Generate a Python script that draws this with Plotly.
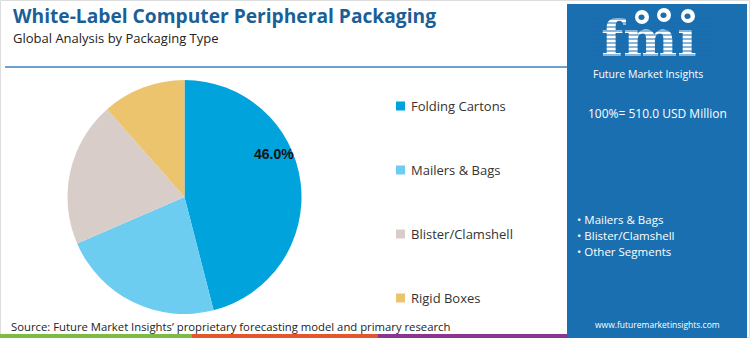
import math
import plotly.graph_objects as go

# ---- data ----
categories = ["Folding Cartons", "Mailers & Bags", "Blister/Clamshell", "Rigid Boxes"]
shares = [46.0, 22.5, 20.0, 11.5]
colors = ["#00A3DC", "#6DCDF1", "#D9CDC9", "#EBC46D"]
total_label = "100%= 510.0 USD Million"
key_segments = ["Mailers & Bags", "Blister/Clamshell", "Other Segments"]

W, H = 750, 338
PANEL = "#1A6FB0"


def px(x):
    return x / W


def py(y):
    return 1 - y / H


fig = go.Figure()

# pie
cx, cy, r = 184.5, 197, 117
fig.add_trace(go.Pie(
    labels=categories, values=shares, sort=False, direction="clockwise", rotation=0,
    marker=dict(colors=colors, line=dict(width=0)),
    textinfo="none",
    domain=dict(x=[px(cx - r), px(cx + r)], y=[py(cy + r), py(cy - r)]),
    showlegend=False, hoverinfo="label+percent",
))

# logo text as scatter (so stripes can go above it)
fig.add_trace(go.Scatter(
    x=[px(649)], y=[py(43.5)], mode="text", text=["fm\u0131"],
    textfont=dict(family="DejaVu Serif", size=51, color="white", weight="bold"),
    textposition="middle center", showlegend=False, hoverinfo="skip",
    xaxis="x", yaxis="y",
))

shapes = []
# outer frame
shapes.append(dict(type="rect", xref="paper", yref="paper", x0=px(0.5), x1=px(749.5), y0=py(337.5), y1=py(0.5),
                   line=dict(color="#DDDDDD", width=1), layer="below"))
# right panel
shapes.append(dict(type="rect", xref="paper", yref="paper", x0=px(567), x1=px(747), y0=py(338), y1=py(4),
                   fillcolor=PANEL, line=dict(width=0), layer="below"))
# title rule
shapes.append(dict(type="line", xref="paper", yref="paper", x0=px(5), x1=px(567), y0=py(67), y1=py(67),
                   line=dict(color="#3A80C2", width=1.5), layer="below"))
# bottom colour bars
for x0, x1, c in [(0, 192, "#7DBB42"), (192, 378, "#E2572B"), (378, 567, "#8B3590")]:
    shapes.append(dict(type="rect", xref="paper", yref="paper", x0=px(x0), x1=px(x1), y0=py(338), y1=py(334),
                       fillcolor=c, line=dict(width=0), layer="below"))
# logo stripes over letters
for yy in range(19, 60, 4):
    shapes.append(dict(type="line", xref="paper", yref="paper", x0=px(588), x1=px(712), y0=py(yy), y1=py(yy),
                       line=dict(color=PANEL, width=1.2), layer="above"))
# globes
for gx, gy in [(642, 17), (664, 15), (688, 16)]:
    shapes.append(dict(type="circle", xref="paper", yref="paper", x0=px(gx - 7), x1=px(gx + 7),
                       y0=py(gy + 7), y1=py(gy - 7), fillcolor="white", line=dict(width=0), layer="above"))
    shapes.append(dict(type="circle", xref="paper", yref="paper", x0=px(gx - 3.5), x1=px(gx + 2.5),
                       y0=py(gy + 3), y1=py(gy - 2.5), fillcolor=PANEL, line=dict(width=0), layer="above"))

# legend (custom)
leg_y = [106, 170, 234, 298]
for lab, c, yy in zip(categories, colors, leg_y):
    shapes.append(dict(type="rect", xref="paper", yref="paper", x0=px(396), x1=px(405),
                       y0=py(yy + 4.5), y1=py(yy - 4.5), fillcolor=c, line=dict(width=0)))

annotations = []
for lab, yy in zip(categories, leg_y):
    annotations.append(dict(text=lab, x=px(409), y=py(yy), xref="paper", yref="paper", xanchor="left",
                            yanchor="middle", showarrow=False,
                            font=dict(family="Open Sans", size=13, color="#333333")))

# value label on the largest slice, placed from the data
ang = math.radians(shares[0] / 100 * 360 * 0.39)
lx, ly = cx + 0.85 * r * math.sin(ang), cy - 0.85 * r * math.cos(ang)
annotations.append(dict(text="<b>%.1f%%</b>" % shares[0], x=px(lx), y=py(ly), xref="paper", yref="paper",
                        xanchor="center", yanchor="middle", showarrow=False,
                        font=dict(family="Liberation Sans", size=14, color="#111111")))

annotations += [
    dict(text="<b>White-Label Computer Peripheral Packaging</b>", x=px(11), y=py(15), xref="paper", yref="paper",
         xanchor="left", yanchor="middle", showarrow=False,
         font=dict(family="Open Sans", size=19.2, color="#1B5F98")),
    dict(text="Global Analysis by Packaging Type", x=px(11), y=py(38), xref="paper", yref="paper",
         xanchor="left", yanchor="middle", showarrow=False,
         font=dict(family="Open Sans", size=13, color="#222222")),
    dict(text="Source: Future Market Insights\u2019 proprietary forecasting model and primary research",
         x=px(9), y=py(326), xref="paper", yref="paper", xanchor="left", yanchor="middle", showarrow=False,
         font=dict(family="Open Sans", size=11.3, color="#222222")),
    dict(text="Future Market Insights", x=px(648), y=py(74.5), xref="paper", yref="paper",
         xanchor="center", yanchor="middle", showarrow=False,
         font=dict(family="Open Sans", size=10.5, color="white")),
    dict(text=total_label, x=px(657), y=py(114), xref="paper", yref="paper",
         xanchor="center", yanchor="middle", showarrow=False,
         font=dict(family="Open Sans", size=12, color="white")),
    dict(text="www.futuremarketinsights.com", x=px(657), y=py(324), xref="paper", yref="paper",
         xanchor="center", yanchor="middle", showarrow=False,
         font=dict(family="Open Sans", size=8.5, color="white")),
]
for i, seg in enumerate(key_segments):
    annotations.append(dict(text="\u2022 " + seg, x=px(575), y=py(219 + 16 * i), xref="paper", yref="paper",
                            xanchor="left", yanchor="middle", showarrow=False,
                            font=dict(family="Open Sans", size=11.5, color="white")))

fig.update_layout(
    width=W, height=H, margin=dict(l=0, r=0, t=0, b=0),
    paper_bgcolor="white", plot_bgcolor="rgba(0,0,0,0)",
    xaxis=dict(range=[0, 1], domain=[0, 1], visible=False, fixedrange=True),
    yaxis=dict(range=[0, 1], domain=[0, 1], visible=False, fixedrange=True),
    shapes=shapes, annotations=annotations, showlegend=False,
)

fig.write_html("out.html")
